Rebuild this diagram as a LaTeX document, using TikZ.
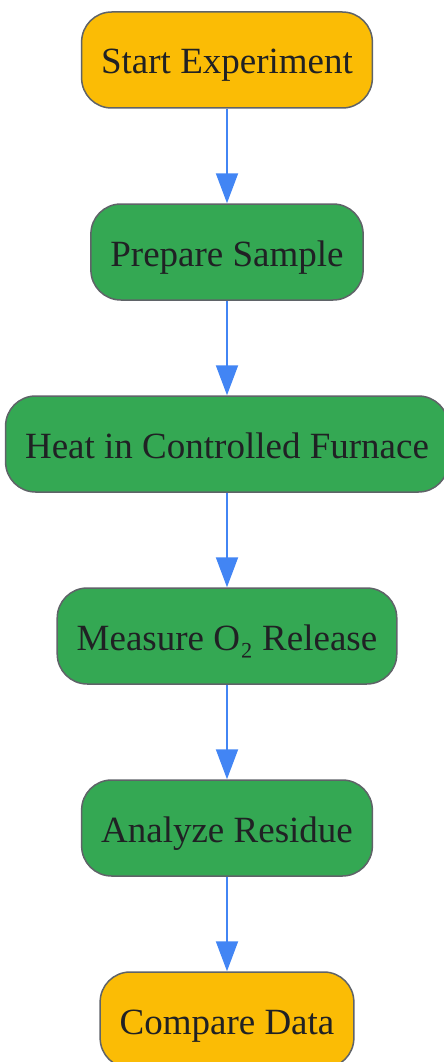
\documentclass[tikz,border=0pt]{standalone}
\usepackage{fontspec}
\setmainfont{Liberation Serif}
\usetikzlibrary{arrows.meta}

\definecolor{startcol}{HTML}{FBBC05}
\definecolor{stepcol}{HTML}{34A853}
\definecolor{edgecol}{HTML}{5F6368}
\definecolor{arrowcol}{HTML}{4285F4}
\definecolor{textcol}{HTML}{202124}

\tikzset{
    box/.style={draw=edgecol, line width=1.5pt, rounded corners=30pt,
        minimum height=96pt, inner xsep=19.5pt, text=textcol,
        text height=33pt, text depth=5pt,
        font=\fontsize{37}{44}\selectfont},
    endbox/.style={box, fill=startcol},
    stepbox/.style={box, fill=stepcol},
    flow/.style={draw=arrowcol, line width=2pt,
        -{Triangle[width=22pt,length=30pt]}}
}

\begin{document}
\begin{tikzpicture}[x=1pt,y=1pt]
        \useasboundingbox (0,0) rectangle (444,-1062);

        % Boxes
        \node[endbox] (start) at (227,-60) {Start Experiment};
        \node[stepbox] (prep) at (227,-252) {Prepare Sample};
        \node[stepbox] (heat) at (227,-444) {Heat in Controlled Furnace};
        \node[stepbox] (measure) at (227,-636) {Measure O₂ Release};
        \node[stepbox] (analyze) at (227,-828) {Analyze Residue};
        \node[endbox] (compare) at (227,-1020) {Compare Data};

        % Arrows
        \foreach \a/\b in {start/prep, prep/heat, heat/measure,
                           measure/analyze, analyze/compare} {
            \path[flow] (\a) -- (\b);
        }
    \end{tikzpicture}
\end{document}
